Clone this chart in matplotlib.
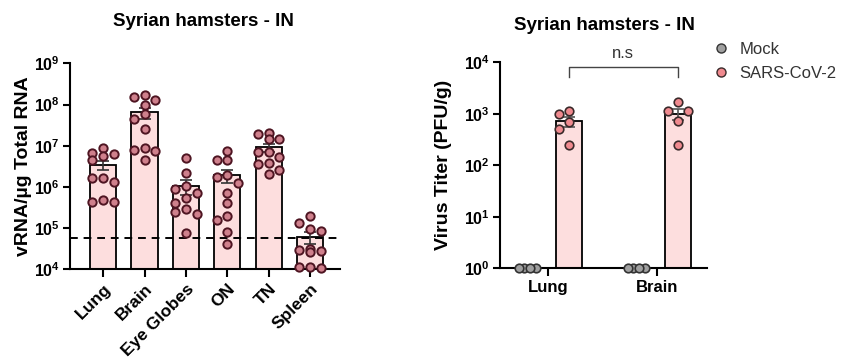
import numpy as np
import matplotlib.pyplot as plt
from matplotlib.lines import Line2D
from matplotlib.ticker import FixedLocator, FuncFormatter, NullLocator

plt.rcParams['font.family'] = ['Liberation Sans', 'DejaVu Sans']
plt.rcParams['mathtext.fontset'] = 'custom'
plt.rcParams['mathtext.rm'] = 'Liberation Sans'
plt.rcParams['mathtext.bf'] = 'Liberation Sans:bold'

# Left panel: vRNA per ug total RNA, per tissue
tissues = ['Lung', 'Brain', 'Eye Globes', 'ON', 'TN', 'Spleen']
lung = [8.6e6, 6.3e6, 6.5e6, 5.6e6, 4.5e6, 1.67e6, 1.6e6, 1.3e6, 4.8e5, 4.4e5, 4.4e5]
brain = [1.7e8, 1.55e8, 1.29e8, 9.7e7, 5.8e7, 4.4e7, 2.6e7, 8.6e6, 7.9e6, 7.4e6, 4.5e6]
eye_globes = [5.1e6, 2.2e6, 1.05e6, 8.7e5, 7.0e5, 5.3e5, 4.1e5, 2.9e5, 2.5e5, 2.2e5, 7.7e4]
on = [7.4e6, 4.5e6, 4.5e6, 1.95e6, 1.77e6, 1.22e6, 7.0e5, 4.0e5, 1.97e5, 1.57e5, 8.2e4, 4.0e4]
tn = [2.07e7, 1.92e7, 1.43e7, 1.43e7, 7.1e6, 6.9e6, 5.2e6, 3.9e6, 3.6e6, 2.6e6, 2.06e6]
spleen = [1.97e5, 1.35e5, 9.3e4, 8.7e4, 3.06e4, 2.9e4, 2.8e4, 2.7e4, 1.12e4, 1.12e4, 1.06e4]
lod = 5.6e4

# Right panel: virus titer (PFU/g)
organs = ['Lung', 'Brain']
mock_titer = [[1, 1, 1, 1], [1, 1, 1, 1]]
sars_titer = [[1130, 990, 680, 500, 250], [1670, 1130, 1130, 720, 250]]

bar_fill = '#fddede'
dot_face = '#cf808c'
dot_edge = '#4e1522'


def swarm(ax, x0, values, step_px, ncols, diam_px):
    """GraphPad-like scatter: x positions (data units) for the dots."""
    trans = ax.transData
    values = np.asarray(values, dtype=float)
    ys = trans.transform(np.column_stack([np.full(len(values), x0), values]))[:, 1]
    k = np.arange(ncols) - (ncols - 1) / 2
    cand = k[np.argsort(np.abs(k), kind='stable')] * step_px
    placed = []
    xs = np.zeros(len(values))
    for i in np.argsort(-values, kind='stable'):
        best, best_d = cand[0], -1
        for c in cand:
            d = min([np.hypot(c - px, ys[i] - py) for px, py in placed],
                    default=np.inf)
            if d >= diam_px:
                best = c
                break
            if d > best_d:
                best, best_d = c, d
        placed.append((best, ys[i]))
        xs[i] = best
    ppu = trans.transform([[1, 1]])[0, 0] - trans.transform([[0, 1]])[0, 0]
    return x0 + xs / ppu


def style(ax, ticks):
    for s in ['top', 'right']:
        ax.spines[s].set_visible(False)
    for s in ['left', 'bottom']:
        ax.spines[s].set_linewidth(1.5)
    ax.set_yscale('log')
    ax.yaxis.set_major_locator(FixedLocator(ticks))
    ax.yaxis.set_minor_locator(NullLocator())
    ax.yaxis.set_major_formatter(FuncFormatter(
        lambda v, p: r'$\mathbf{10^{%d}}$' % round(np.log10(v))))
    ax.tick_params(direction='out', length=5, width=1.5, labelsize=11.5,
                   pad=2.5)


fig = plt.figure(figsize=(8.45, 3.58), dpi=100)
ax1 = fig.add_axes([70 / 845, 1 - 269.3 / 358, 270 / 845, 206 / 358])
ax2 = fig.add_axes([500 / 845, 1 - 268.3 / 358, 207 / 845, 206 / 358])

# ---- left panel
groups = [lung, brain, eye_globes, on, tn, spleen]
x = np.arange(len(tissues))
style(ax1, [1e4, 1e5, 1e6, 1e7, 1e8, 1e9])
ax1.set_ylim(1e4, 1e9)
ax1.set_xlim(-0.8, 5.72)
means = [np.mean(g) for g in groups]
sems = [np.std(g, ddof=1) / np.sqrt(len(g)) for g in groups]
ax1.bar(x, means, width=0.63, color=bar_fill, edgecolor='black',
        linewidth=1.3, zorder=2)
ax1.errorbar(x, means, yerr=sems, fmt='none', ecolor='#333333',
             elinewidth=1.2, capsize=4, capthick=1.2, zorder=3)
ax1.axhline(lod, color='black', linestyle=(0, (4, 3)), linewidth=1.4, zorder=3.5)
for xi, g in zip(x, groups):
    xs = swarm(ax1, xi, g, 10.7, 3, 8.5)
    ax1.scatter(xs, g, s=36, facecolor=dot_face, edgecolor=dot_edge,
                linewidth=1.4, zorder=4, clip_on=False)
ax1.set_xticks(x)
ax1.set_xticklabels(tissues, rotation=45, ha='right', rotation_mode='anchor',
                    fontsize=12.5, fontweight='bold')
ax1.tick_params(axis='x', length=6)
ax1.set_ylabel('vRNA/µg Total RNA', fontsize=14, fontweight='bold',
               va='center')
ax1.yaxis.set_label_coords((24 - 70) / 270, 0.5)

# ---- right panel
xo = np.arange(len(organs))
off = 0.19
style(ax2, [1, 10, 100, 1000, 1e4])
ax2.set_ylim(1, 1e4)
ax2.set_xlim(-0.44, 1.459)
s_means = [np.mean(g) for g in sars_titer]
s_sems = [np.std(g, ddof=1) / np.sqrt(len(g)) for g in sars_titer]
ax2.bar(xo + off, s_means, width=0.24, color=bar_fill, edgecolor='black',
        linewidth=1.3, zorder=2)
ax2.errorbar(xo + off, s_means, yerr=s_sems, fmt='none', ecolor='#555555',
             elinewidth=1.2, capsize=4, capthick=1.2, zorder=3)
for xi, g in zip(xo, sars_titer):
    xs = swarm(ax2, xi + off, g, 10, 3, 9.5)
    ax2.scatter(xs, g, s=38, facecolor='#f08a8f', edgecolor='#3a2a2a',
                linewidth=1.2, zorder=4, clip_on=False)
for xi, g in zip(xo, mock_titer):
    xs = swarm(ax2, xi - off, g, 5.7, 4, 8)
    ax2.scatter(xs, g, s=38, facecolor='#a0a0a0', edgecolor='#333333',
                linewidth=1.2, zorder=4, clip_on=False)
ax2.set_xticks(xo)
ax2.set_xticklabels(organs, fontsize=12, fontweight='bold')
ax2.tick_params(axis='x', length=6)
ax2.set_ylabel('Virus Titer (PFU/g)', fontsize=14, fontweight='bold',
               va='center')
ax2.yaxis.set_label_coords((444 - 500) / 207, 0.5)

# significance bracket
ax2.plot([xo[0] + off, xo[0] + off, xo[1] + off, xo[1] + off],
         [5200, 8100, 8100, 5200], color='#444444', linewidth=1,
         clip_on=False)
ax2.text((xo[0] + xo[1]) / 2 + off, 15000, 'n.s', ha='center', va='center',
         fontsize=12, color='#333333')

handles = [
    Line2D([], [], marker='o', linestyle='none', markersize=6.5,
           markerfacecolor='#a0a0a0', markeredgecolor='#333333'),
    Line2D([], [], marker='o', linestyle='none', markersize=6.5,
           markerfacecolor='#f08a8f', markeredgecolor='#3a2a2a'),
]
leg = fig.legend(handles, ['Mock', 'SARS-CoV-2'], loc='upper left',
                 bbox_to_anchor=(713 / 845, 1 - 42 / 358), frameon=False,
                 fontsize=12, handlelength=1, handletextpad=0.6,
                 labelspacing=0.55, borderpad=0, borderaxespad=0)
for t in leg.get_texts():
    t.set_color('#333333')

fig.text(203 / 845, 1 - 22 / 358, 'Syrian hamsters - IN', ha='center',
         va='center', fontsize=13.5, fontweight='bold')
fig.text(604 / 845, 1 - 25 / 358, 'Syrian hamsters - IN', ha='center',
         va='center', fontsize=13.5, fontweight='bold')

fig.savefig('out.png', dpi=100)
